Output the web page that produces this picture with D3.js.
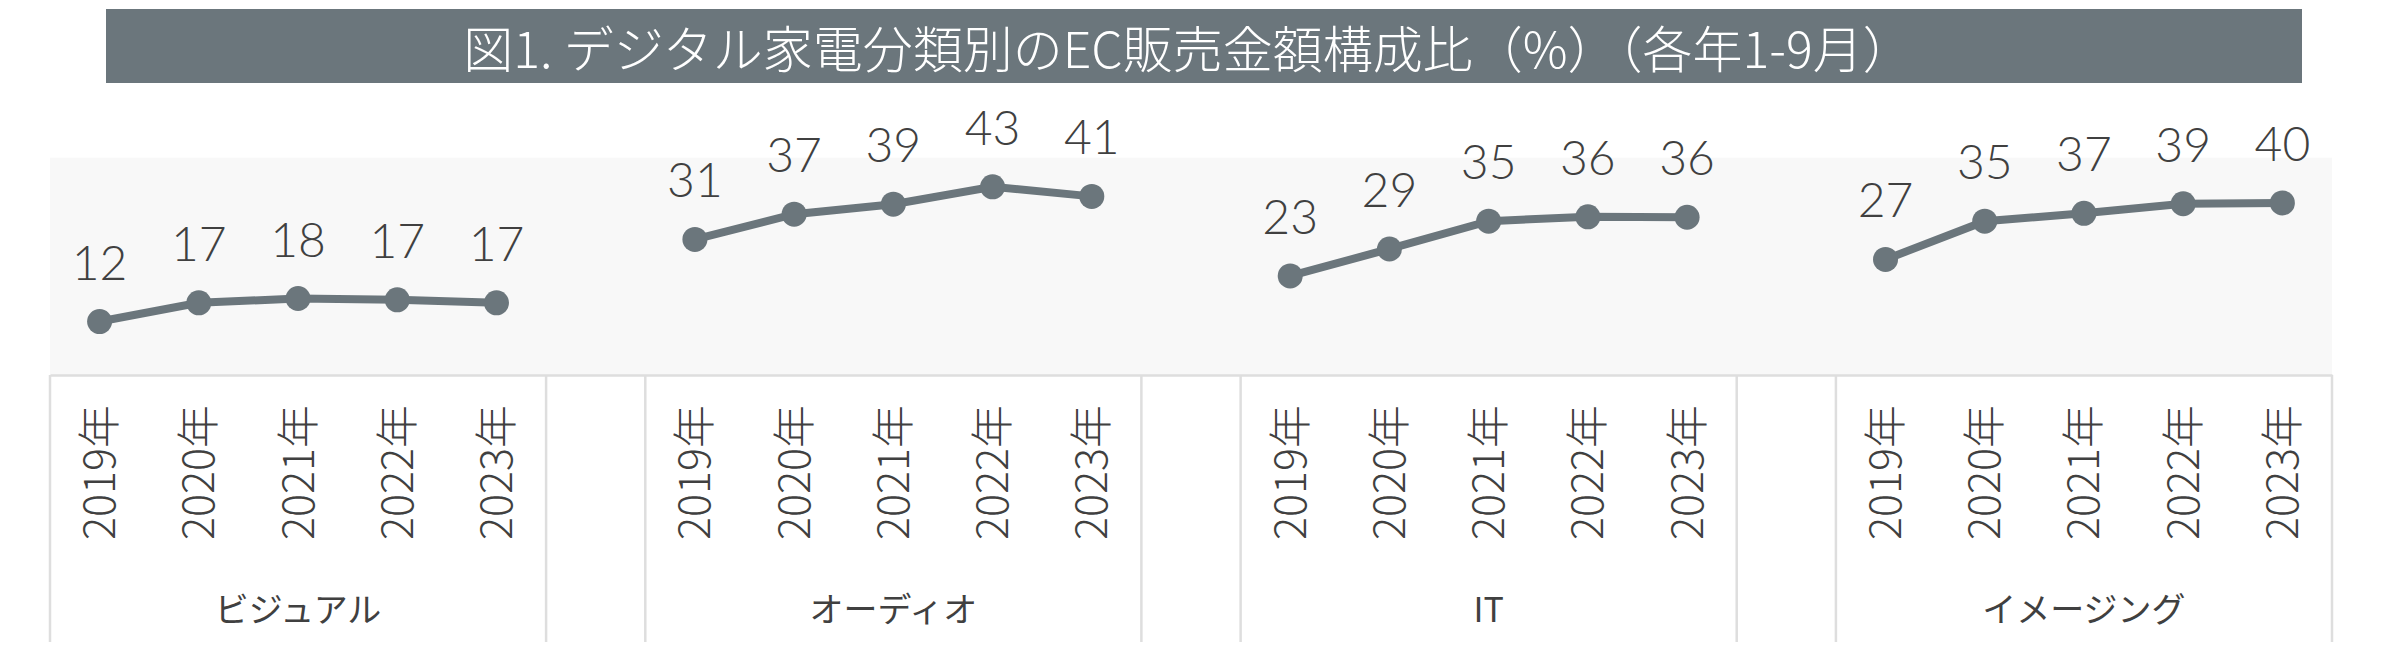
<!DOCTYPE html>
<html>
<head>
<meta charset="utf-8">
<script src="https://cdn.jsdelivr.net/npm/d3@7"></script>
<style>
  html, body { margin: 0; padding: 0; background: #fff; }
  svg { display: block; }
</style>
</head>
<body>
<div id="viz"></div>
<script>
// EC sales share by digital appliance category (Jan-Sep of each year)
const groups = ["ビジュアル", "オーディオ", "IT", "イメージング"];
const years = ["2019年", "2020年", "2021年", "2022年", "2023年"];
const visual = [12.3, 16.6, 17.6, 17.3, 16.6];
const audio = [31.2, 37.0, 39.3, 43.3, 41.1];
const it = [22.8, 29.0, 35.4, 36.4, 36.3];
const imaging = [26.6, 35.4, 37.2, 39.4, 39.6];
const title = "図1. デジタル家電分類別のEC販売金額構成比（%）（各年1-9月）";

const seriesByGroup = [visual, audio, it, imaging];

const width = 2381, height = 665;
const plotLeft = 50, plotRight = 2332, plotTop = 157.7, plotBottom = 375;
const axisBottom = 642;
const lineColor = "#6b767c";
const textColor = "#404040";
const gridColor = "#dedede";

// 1. Category keys: 5 years per group, one blank slot between groups
const categories = [];
groups.forEach((g, gi) => {
    years.forEach(y => categories.push({ key: g + "|" + y, group: g, year: y }));
    if (gi < groups.length - 1) categories.push({ key: "gap" + gi, group: null, year: "" });
});
const yearOf = {};
categories.forEach(c => { yearOf[c.key] = c.year; });

const x = d3.scaleBand()
    .domain(categories.map(c => c.key))
    .range([plotLeft, plotRight])
    .paddingInner(0).paddingOuter(0);

const y = d3.scaleLinear().domain([0, 50]).range([plotBottom, plotTop]);

const svg = d3.select("#viz").append("svg")
    .attr("width", width)
    .attr("height", height);

// 2. Title bar
svg.append("rect")
    .attr("x", 106).attr("y", 9)
    .attr("width", 2302 - 106).attr("height", 74)
    .attr("fill", lineColor);

svg.append("text")
    .attr("x", 1188)
    .attr("y", 46)
    .attr("text-anchor", "middle")
    .attr("dominant-baseline", "central")
    .attr("fill", "#fff")
    .attr("font-family", "'Noto Sans CJK JP', 'Noto Sans', sans-serif")
    .attr("font-weight", 300)
    .attr("font-size", 50)
    .text(title);

// 3. Plot background
svg.append("rect")
    .attr("x", plotLeft).attr("y", plotTop)
    .attr("width", plotRight - plotLeft).attr("height", plotBottom - plotTop)
    .attr("fill", "#f8f8f8");

// 4. Category axis (year level)
const xAxis = svg.append("g")
    .attr("transform", `translate(0,${plotBottom})`)
    .call(d3.axisBottom(x).tickSize(0).tickFormat(k => yearOf[k]));

xAxis.select(".domain")
    .attr("stroke", gridColor)
    .attr("stroke-width", 2.5);

xAxis.selectAll("text")
    .attr("transform", "rotate(-90)")
    .attr("text-anchor", "end")
    .attr("x", -30)
    .attr("y", 0)
    .attr("dy", "0.36em")
    .attr("fill", textColor)
    .attr("font-family", "'Noto Sans CJK JP', 'Noto Sans', sans-serif")
    .attr("font-weight", 300)
    .attr("font-size", 43);

// 5. Group separators and group labels
const bounds = [];
groups.forEach(g => {
    const keys = categories.filter(c => c.group === g).map(c => c.key);
    const x0 = x(keys[0]);
    const x1 = x(keys[keys.length - 1]) + x.bandwidth();
    bounds.push({ g, x0, x1 });
});

const sepX = [];
bounds.forEach(b => { sepX.push(b.x0, b.x1); });

svg.append("g")
    .selectAll("line")
    .data(sepX)
    .enter().append("line")
    .attr("x1", d => d).attr("x2", d => d)
    .attr("y1", plotBottom).attr("y2", axisBottom)
    .attr("stroke", gridColor)
    .attr("stroke-width", 2.5);

svg.append("g")
    .selectAll("text")
    .data(bounds)
    .enter().append("text")
    .attr("x", d => (d.x0 + d.x1) / 2)
    .attr("y", 607)
    .attr("text-anchor", "middle")
    .attr("dominant-baseline", "central")
    .attr("fill", textColor)
    .attr("font-family", "'Noto Sans CJK JP', 'Noto Sans', sans-serif")
    .attr("font-weight", 400)
    .attr("font-size", 34)
    .text(d => d.g);

// 6. Lines, markers and data labels per group
const line = d3.line()
    .x(d => x(d.key) + x.bandwidth() / 2)
    .y(d => y(d.value));

groups.forEach((g, gi) => {
    const pts = years.map((yr, i) => ({ key: g + "|" + yr, value: seriesByGroup[gi][i] }));
    const grp = svg.append("g");

    grp.append("path")
        .datum(pts)
        .attr("d", line)
        .attr("fill", "none")
        .attr("stroke", lineColor)
        .attr("stroke-width", 8);

    grp.selectAll("circle")
        .data(pts)
        .enter().append("circle")
        .attr("cx", d => x(d.key) + x.bandwidth() / 2)
        .attr("cy", d => y(d.value))
        .attr("r", 12.5)
        .attr("fill", lineColor);

    grp.selectAll("text")
        .data(pts)
        .enter().append("text")
        .attr("x", d => x(d.key) + x.bandwidth() / 2)
        .attr("y", d => y(d.value) - 42)
        .attr("text-anchor", "middle")
        .attr("fill", textColor)
        .attr("font-family", "Lato, 'Noto Sans', sans-serif")
        .attr("font-weight", 300)
        .attr("font-size", 48)
        .text(d => d3.format(".0f")(d.value));
});
</script>
</body>
</html>
